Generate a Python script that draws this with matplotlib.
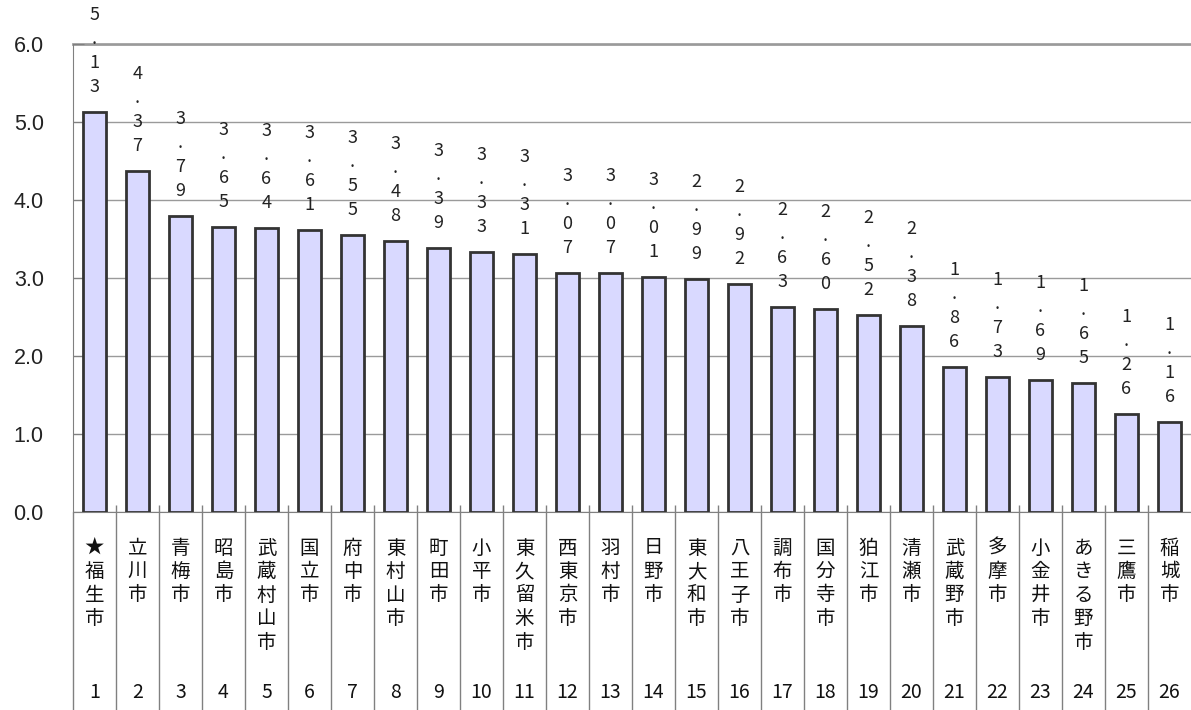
import matplotlib
matplotlib.use('Agg')
import matplotlib.pyplot as plt
import numpy as np

# 多摩26市のデータ
cities = ['★福生市', '立川市', '青梅市', '昭島市', '武蔵村山市', '国立市', '府中市',
          '東村山市', '町田市', '小平市', '東久留米市', '西東京市', '羽村市', '日野市',
          '東大和市', '八王子市', '調布市', '国分寺市', '狛江市', '清瀬市', '武蔵野市',
          '多摩市', '小金井市', 'あきる野市', '三鷹市', '稲城市']
values = [5.13, 4.37, 3.79, 3.65, 3.64, 3.61, 3.55, 3.48, 3.39, 3.33, 3.31, 3.07, 3.07,
          3.01, 2.99, 2.92, 2.63, 2.60, 2.52, 2.38, 1.86, 1.73, 1.69, 1.65, 1.26, 1.16]
ranks = [str(i) for i in range(1, 27)]
yticks = [0, 1, 2, 3, 4, 5, 6]

plt.rcParams['font.family'] = ['Noto Sans CJK JP', 'DejaVu Sans']

fig = plt.figure(figsize=(11.91, 7.10), dpi=100)
ax = fig.add_axes([73 / 1191, 1 - 512 / 710, 1 - 73 / 1191, (512 - 44) / 710])

x = np.arange(1, len(values) + 1)
ax.bar(x, values, width=0.52, color='#D9D9FF', edgecolor='#333333', linewidth=2, zorder=3)

ax.set_xlim(0.5, len(values) + 0.5)
ax.set_ylim(0, 6)
ax.set_yticks(yticks)
ax.set_yticklabels([f'{t:.1f}' for t in yticks], family=['Liberation Sans'], fontsize=15.5, color='#222222')
ax.tick_params(axis='y', direction='in', length=8, pad=21, color='#808080')
ax.set_xticks([])

ax.grid(axis='y', color='#9a9a9a', linewidth=1, zorder=0)
for side in ['right', 'top']:
    ax.spines[side].set_visible(False)
ax.spines['left'].set_color('#808080')
ax.spines['bottom'].set_color('#808080')
ax.axhline(6, color='#a0a0a0', linewidth=2, clip_on=False, zorder=1)

# 値ラベル（縦書き）
for xi, v in zip(x, values):
    for j, ch in enumerate(f'{v:.2f}'):
        ax.annotate(ch, xy=(xi, v), xytext=(0, 97 - 24 * j), textcoords='offset pixels',
                    ha='center', va='center', fontsize=13, color='#222222',
                    annotation_clip=False)

# 区切り線
bounds = np.arange(0.5, len(values) + 0.5, 1.0)
ax.vlines(bounds[1:], 7 / 468, -198 / 468, transform=ax.get_xaxis_transform(),
          color='#808080', linewidth=1, clip_on=False)
ax.vlines(bounds[:1], 0, -198 / 468, transform=ax.get_xaxis_transform(),
          color='#808080', linewidth=1, clip_on=False)

# 市名（縦書き）と順位
for xi, name, r in zip(x, cities, ranks):
    for j, ch in enumerate(name):
        ax.annotate(ch, xy=(xi, 0), xytext=(0, -36 - 23.5 * j), textcoords='offset pixels',
                    ha='center', va='center', fontsize=14, color='#111111',
                    annotation_clip=False)
    ax.annotate(r, xy=(xi, 0), xytext=(0, -181), textcoords='offset pixels',
                ha='center', va='center', fontsize=14, color='#111111',
                annotation_clip=False)

fig.savefig('out.png', dpi=100)
